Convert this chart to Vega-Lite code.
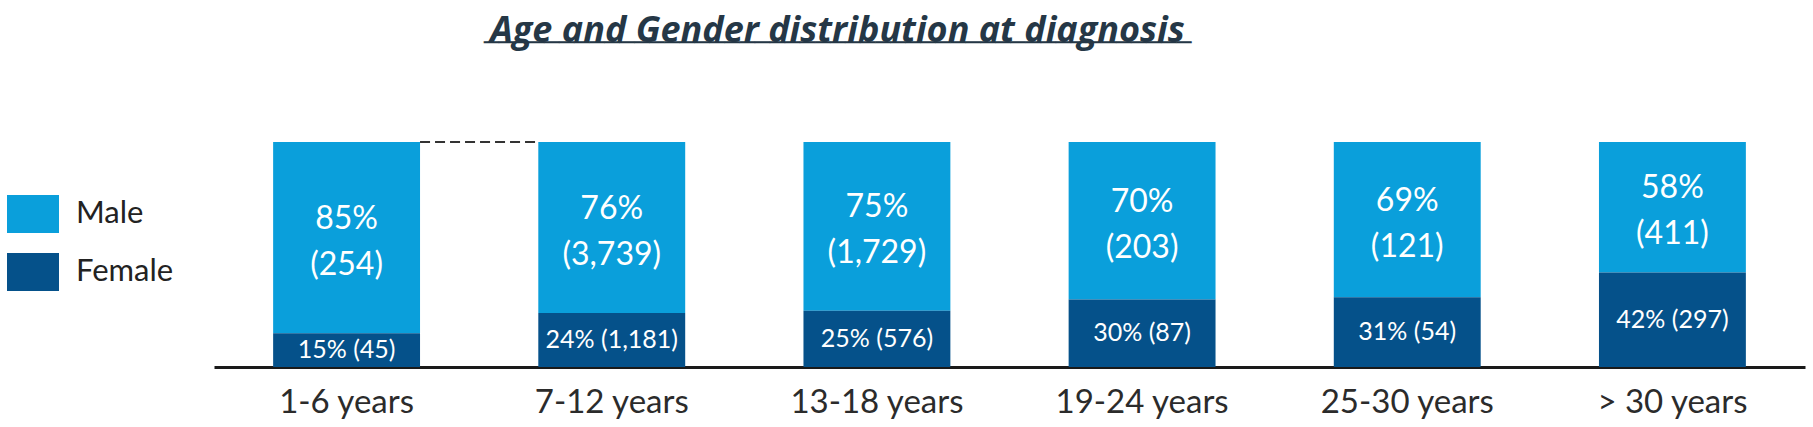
{
  "$schema": "https://vega.github.io/schema/vega-lite/v6.json",
  "autosize": "none",
  "padding": {"left": 214, "top": 142, "right": 8, "bottom": 60},
  "width": 1591,
  "height": 225,
  "background": "white",
  "config": {
    "font": "Lato",
    "view": {"stroke": null}
  },
  "title": {
    "text": "Age and Gender distribution at diagnosis",
    "subtitle": "───────────────────────────────────────────────",
    "font": "Open Sans",
    "fontSize": 36,
    "fontWeight": "bold",
    "fontStyle": "italic",
    "color": "#253746",
    "subtitleFont": "DejaVu Sans",
    "subtitleFontSize": 25,
    "subtitleColor": "#253746",
    "subtitlePadding": -19,
    "anchor": "middle",
    "dx": -172,
    "offset": 84
  },
  "data": {
    "values": [
      {"age": "1-6 years", "gender": "Male", "pct": 85, "label": "85%\n(254)"},
      {"age": "1-6 years", "gender": "Female", "pct": 15, "label": "15% (45)"},
      {"age": "7-12 years", "gender": "Male", "pct": 76, "label": "76%\n(3,739)"},
      {"age": "7-12 years", "gender": "Female", "pct": 24, "label": "24% (1,181)"},
      {"age": "13-18 years", "gender": "Male", "pct": 75, "label": "75%\n(1,729)"},
      {"age": "13-18 years", "gender": "Female", "pct": 25, "label": "25% (576)"},
      {"age": "19-24 years", "gender": "Male", "pct": 70, "label": "70%\n(203)"},
      {"age": "19-24 years", "gender": "Female", "pct": 30, "label": "30% (87)"},
      {"age": "25-30 years", "gender": "Male", "pct": 69, "label": "69%\n(121)"},
      {"age": "25-30 years", "gender": "Female", "pct": 31, "label": "31% (54)"},
      {"age": "> 30 years", "gender": "Male", "pct": 58, "label": "58%\n(411)"},
      {"age": "> 30 years", "gender": "Female", "pct": 42, "label": "42% (297)"}
    ]
  },
  "transform": [
    {"calculate": "datum.gender === 'Female' ? 0 : 1", "as": "order"},
    {"stack": "pct", "groupby": ["age"], "sort": [{"field": "order"}], "as": ["y0", "y1"]},
    {"calculate": "(datum.y0 + datum.y1) / 2", "as": "mid"}
  ],
  "encoding": {
    "x": {
      "field": "age",
      "type": "nominal",
      "sort": null,
      "title": null,
      "scale": {"paddingInner": 0.446, "paddingOuter": 0.223},
      "axis": {
        "labelAngle": 0,
        "labelFontSize": 33,
        "labelColor": "#2b2b2b",
        "labelPadding": 19,
        "ticks": false,
        "domainColor": "#1a1a1a",
        "domainWidth": 3,
        "grid": false
      }
    }
  },
  "layer": [
    {
      "mark": {"type": "bar"},
      "encoding": {
        "y": {"field": "y0", "type": "quantitative", "scale": {"domain": [0, 100]}, "axis": null},
        "y2": {"field": "y1"},
        "color": {
          "field": "gender",
          "type": "nominal",
          "scale": {"domain": ["Male", "Female"], "range": ["#0A9FDB", "#05518A"]},
          "legend": {
            "title": null,
            "orient": "none",
            "legendX": -207,
            "legendY": 46,
            "symbolType": "M-1,-0.73H1V0.73H-1Z",
            "symbolSize": 2704,
            "symbolStrokeWidth": 0,
            "symbolOpacity": 1,
            "labelFontSize": 31,
            "labelColor": "#222222",
            "labelOffset": 17,
            "rowPadding": 13
          }
        }
      }
    },
    {
      "transform": [{"filter": "datum.gender === 'Male'"}],
      "mark": {"type": "text", "color": "white", "fontSize": 32, "lineBreak": "\n", "lineHeight": 46, "baseline": "middle", "dy": -19},
      "encoding": {
        "y": {"field": "mid", "type": "quantitative"},
        "text": {"field": "label"}
      }
    },
    {
      "transform": [{"filter": "datum.gender === 'Female'"}],
      "mark": {"type": "text", "color": "white", "fontSize": 25, "baseline": "middle"},
      "encoding": {
        "y": {"field": "mid", "type": "quantitative"},
        "text": {"field": "label"}
      }
    },
    {
      "data": {"values": [{"from": "1-6 years", "to": "7-12 years", "top": 100}]},
      "transform": [],
      "mark": {"type": "rule", "color": "#333333", "strokeWidth": 2, "strokeDash": [10, 5]},
      "encoding": {
        "x": {"field": "from", "type": "nominal", "bandPosition": 1},
        "x2": {"field": "to", "bandPosition": 0},
        "y": {"field": "top", "type": "quantitative"}
      }
    }
  ]
}
